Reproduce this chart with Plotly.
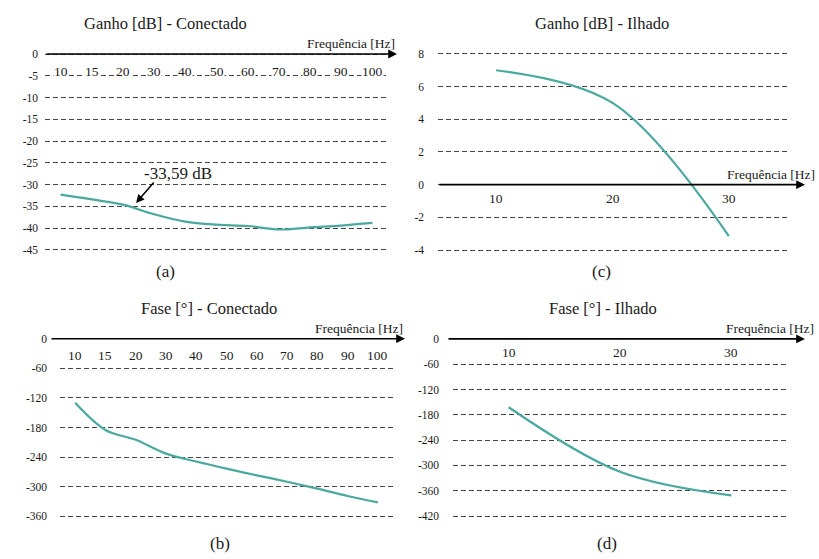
import plotly.graph_objects as go

# ---------------- data ----------------
freq_conectado = ["10", "15", "20", "30", "40", "50", "60", "70", "80", "90", "100"]
freq_ilhado = ["10", "20", "30"]

ganho_conectado = [-32.3, -33.4, -34.6, -36.8, -38.5, -39.2, -39.5, -40.3, -39.8, -39.4, -38.8]
fase_conectado = [-130, -185, -205, -233, -249, -263.5, -277, -290, -304, -319, -332]
ganho_ilhado = [7.0, 5.0, -3.15]
fase_ilhado = [-162, -315, -371]

ticks_ganho_con = [0, -5, -10, -15, -20, -25, -30, -35, -40, -45]
ticks_ganho_ilh = [8, 6, 4, 2, 0, -2, -4]
ticks_fase_con = [0, -60, -120, -180, -240, -300, -360]
ticks_fase_ilh = [0, -60, -120, -180, -240, -300, -360, -420]

titulos = ["Ganho [dB] - Conectado", "Ganho [dB] - Ilhado", "Fase [°] - Conectado", "Fase [°] - Ilhado"]
rotulos = ["(a)", "(c)", "(b)", "(d)"]
anot_valor = "-33,59 dB"
eixo_x = "Frequência [Hz]"

# ---------------- layout ----------------
W, H = 819, 559
FONT = "Liberation Serif, DejaVu Serif, serif"
LINE = "#4AA99F"
GRID = "#444444"
TXT = "#1a1a1a"


def fx(px):
    return px / W


def fy(py):
    return 1 - py / H


panels = [
    dict(cats=freq_conectado, vals=ganho_conectado, ticks=ticks_ganho_con,
         x0=45, x1=388, rng=[-48, 1], zero=52.2, ppu=4.37, lab=-5, lab_anchor="bottom", lab_shift=-4,
         stand=6, a0=45, a1=397, title=(165, 22), rot=(165, 270)),
    dict(cats=freq_ilhado, vals=ganho_ilhado, ticks=ticks_ganho_ilh,
         x0=438, x1=787, rng=[-4.6, 8.4], zero=183.3, ppu=16.4, lab=-0.84, lab_anchor="middle", lab_shift=0,
         stand=13, a0=438, a1=805, title=(602, 22), rot=(601, 270)),
    dict(cats=freq_conectado, vals=fase_conectado, ticks=ticks_fase_con,
         x0=60, x1=393, rng=[-375, 10], zero=337.9, ppu=0.495, lab=-34, lab_anchor="middle", lab_shift=0,
         stand=12, a0=50, a1=405, title=(209, 308), rot=(220, 543)),
    dict(cats=freq_ilhado, vals=fase_ilhado, ticks=ticks_fase_ilh,
         x0=453, x1=787, rng=[-435, 10], zero=338.1, ppu=0.4233, lab=-33, lab_anchor="middle", lab_shift=0,
         stand=13, a0=447, a1=805, title=(603, 308), rot=(607, 543)),
]
label_right = [397, 817, 405, 816]

fig = go.Figure()
annotations = []
layout = dict(
    width=W, height=H, margin=dict(l=0, r=0, t=0, b=0),
    paper_bgcolor="white", plot_bgcolor="white", showlegend=False,
    font=dict(family=FONT, color=TXT),
)

for i, p in enumerate(panels):
    n = i + 1
    xa = "x" if n == 1 else f"x{n}"
    ya = "y" if n == 1 else f"y{n}"
    xkey = "xaxis" if n == 1 else f"xaxis{n}"
    ykey = "yaxis" if n == 1 else f"yaxis{n}"

    fig.add_trace(go.Scatter(
        x=p["cats"], y=p["vals"], mode="lines", xaxis=xa, yaxis=ya,
        line=dict(color=LINE, width=2.2, shape="spline", smoothing=1.0),
        hoverinfo="skip",
    ))

    top_px = p["zero"] - p["rng"][1] * p["ppu"]
    bot_px = p["zero"] - p["rng"][0] * p["ppu"]

    layout[xkey] = dict(
        domain=[fx(p["x0"]), fx(p["x1"])], anchor=ya, type="category",
        categoryorder="array", categoryarray=p["cats"],
        range=[-0.5, len(p["cats"]) - 0.5],
        showticklabels=False, showgrid=False, zeroline=False, showline=False, ticks="",
        fixedrange=True,
    )
    layout[ykey] = dict(
        domain=[fy(bot_px), fy(top_px)], anchor=xa, range=p["rng"],
        tickvals=p["ticks"], ticktext=[str(t) for t in p["ticks"]],
        showgrid=True, gridcolor=GRID, gridwidth=1, griddash="5px,3px",
        zeroline=False, showline=False, ticks="", ticklabelstandoff=p["stand"],
        tickfont=dict(family=FONT, size=11.5, color=TXT),
        fixedrange=True,
    )

    # horizontal axis arrow at 0
    annotations.append(dict(
        xref="paper", x=fx(p["a1"]), yref=ya, y=0,
        axref="pixel", ax=-(p["a1"] - p["a0"]), ayref="pixel", ay=0,
        text="", showarrow=True, arrowhead=2, arrowsize=1.1, arrowwidth=1.6,
        arrowcolor="black", standoff=0, startstandoff=0,
    ))
    annotations.append(dict(
        xref="paper", x=fx(label_right[i]), yref=ya, y=0,
        xanchor="right", yanchor="bottom", yshift=1, showarrow=False,
        text=eixo_x, font=dict(family=FONT, size=13.5, color=TXT),
    ))
    # category labels (positioned by category index on the category axis)
    for j, c in enumerate(p["cats"]):
        annotations.append(dict(
            xref=xa, x=j, yref=ya, y=p["lab"], yanchor=p["lab_anchor"], yshift=p["lab_shift"],
            showarrow=False, text=c, bgcolor="white", borderpad=0,
            font=dict(family=FONT, size=13.5, color=TXT),
        ))
    annotations.append(dict(
        xref="paper", yref="paper", x=fx(p["title"][0]), y=fy(p["title"][1]),
        xanchor="center", yanchor="middle", showarrow=False, text=titulos[i],
        font=dict(family=FONT, size=16.5, color=TXT),
    ))
    annotations.append(dict(
        xref="paper", yref="paper", x=fx(p["rot"][0]), y=fy(p["rot"][1]),
        xanchor="center", yanchor="middle", showarrow=False, text=rotulos[i],
        font=dict(family=FONT, size=17, color=TXT),
    ))

# value annotation in panel (a)
annotations.append(dict(
    xref="x", yref="y", x=2.42, y=-34.2, axref="pixel", ayref="pixel", ax=19, ay=-22,
    text="", showarrow=True, arrowhead=2, arrowsize=1.1, arrowwidth=1.5, arrowcolor="black",
    standoff=0,
))
annotations.append(dict(
    xref="paper", yref="paper", x=fx(178), y=fy(172), xanchor="center", yanchor="middle",
    showarrow=False, text=anot_valor, font=dict(family=FONT, size=17, color=TXT),
))

layout["annotations"] = annotations
fig.update_layout(**layout)
fig.write_html(
    "out.html",
    config={"displayModeBar": False, "staticPlot": False},
    post_script="document.body.style.margin='0';document.body.style.overflow='hidden';",
)
